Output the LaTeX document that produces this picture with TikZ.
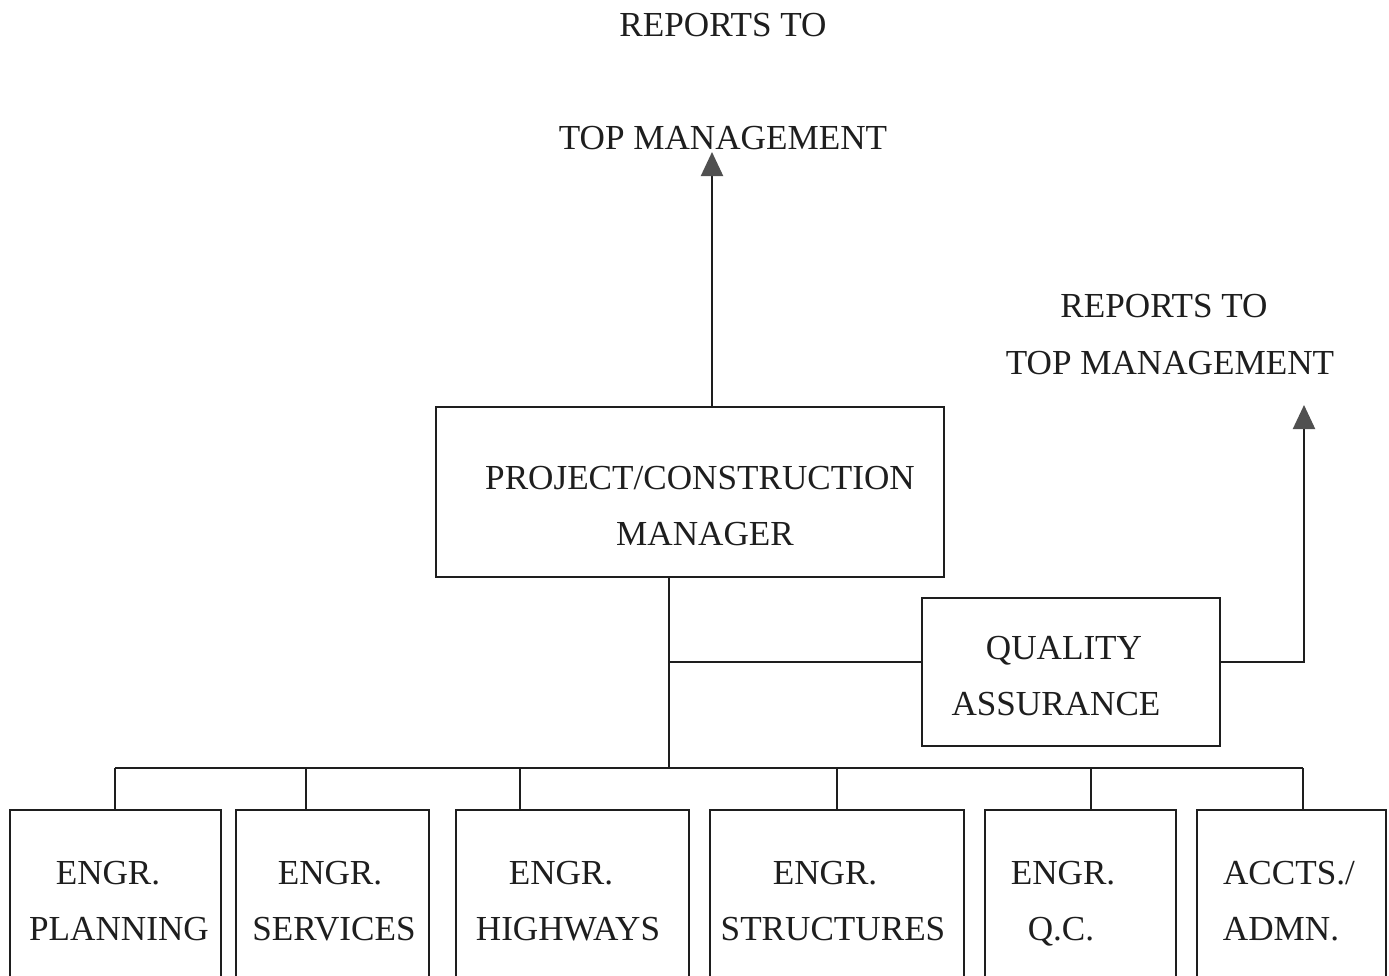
\documentclass[tikz,border=0pt]{standalone}
\usepackage{fontspec}
\setmainfont{Liberation Serif}
\usetikzlibrary{arrows.meta}
\definecolor{ink}{HTML}{1E1E1E}
\definecolor{tipgray}{HTML}{505050}
\tikzset{
  orgbox/.style={draw=ink, line width=1.2pt, inner sep=0pt, rectangle},
  lbl/.style={anchor=base, inner sep=0pt, text=ink, font=\fontsize{20}{24}\selectfont},
  link/.style={draw=ink, line width=1.2pt},
  uparrow/.style={link, -{Triangle[width=0.44cm,length=0.48cm,color=tipgray]}}
}
\begin{document}
\begin{tikzpicture}[x=0.02cm,y=-0.02cm]
\useasboundingbox (0,0) rectangle (1389,975);
\clip (0,0) rectangle (1389,975);
\fill[white] (0,0) rectangle (1389,975);

% top labels
\node[lbl] (rep1) at (723,36) {REPORTS TO};
\node[lbl] (top1) at (723,149) {TOP MANAGEMENT};
\node[lbl] (rep2) at (1164,317) {REPORTS TO};
\node[lbl] (top2) at (1170,374) {TOP MANAGEMENT};

% project manager
\node[orgbox, minimum width=10.16cm, minimum height=3.4cm] (pm) at (690,492) {};
\node[lbl] (pm1) at (700,489) {PROJECT/CONSTRUCTION};
\node[lbl] (pm2) at (705,545) {MANAGER};

% quality assurance
\node[orgbox, minimum width=5.96cm, minimum height=2.96cm] (qa) at (1071,672) {};
\node[lbl] (qa1) at (1064,659) {QUALITY};
\node[lbl] (qa2) at (1056,715) {ASSURANCE};

% bottom boxes
\node[orgbox, minimum width=4.22cm, minimum height=3.8cm] (b1) at (115.5,905) {};
\node[orgbox, minimum width=3.86cm, minimum height=3.8cm] (b2) at (332.5,905) {};
\node[orgbox, minimum width=4.66cm, minimum height=3.8cm] (b3) at (572.5,905) {};
\node[orgbox, minimum width=5.08cm, minimum height=3.8cm] (b4) at (837,905) {};
\node[orgbox, minimum width=3.82cm, minimum height=3.8cm] (b5) at (1080.5,905) {};
\node[orgbox, minimum width=3.78cm, minimum height=3.8cm] (b6) at (1291.5,905) {};

\node[lbl] (t1a) at (108,884) {ENGR.};
\node[lbl] (t1b) at (119,940) {PLANNING};
\node[lbl] (t2a) at (330,884) {ENGR.};
\node[lbl] (t2b) at (334,940) {SERVICES};
\node[lbl] (t3a) at (561,884) {ENGR.};
\node[lbl] (t3b) at (568,940) {HIGHWAYS};
\node[lbl] (t4a) at (825,884) {ENGR.};
\node[lbl] (t4b) at (833,940) {STRUCTURES};
\node[lbl] (t5a) at (1063,884) {ENGR.};
\node[lbl] (t5b) at (1061,940) {Q.C.};
\node[lbl] (t6a) at (1289,884) {ACCTS./};
\node[lbl] (t6b) at (1281,940) {ADMN.};

% coordinates
\coordinate (pmtop) at (712,407);
\coordinate (tip1) at (712,152);
\coordinate (pmbot) at (669,577);
\coordinate (qaj) at (669,662);
\coordinate (busc) at (669,768);
\coordinate (corner) at (1304,662);
\coordinate (tip2) at (1304,405);
\coordinate (d1) at (115,768);
\coordinate (d2) at (306,768);
\coordinate (d3) at (520,768);
\coordinate (d4) at (837,768);
\coordinate (d5) at (1091,768);
\coordinate (d6) at (1303,768);

% connectors
\draw[uparrow] (pmtop) -- (tip1);
\draw[link] (pmbot) -- (busc);
\draw[link] (qaj) -- (qa.west |- qaj);
\draw[uparrow] (qa.east |- corner) -- (corner) -- (tip2);
\draw[link] (d1) -- (d6);
\draw[link] (d1) -- (d1 |- b1.north);
\draw[link] (d2) -- (d2 |- b2.north);
\draw[link] (d3) -- (d3 |- b3.north);
\draw[link] (d4) -- (d4 |- b4.north);
\draw[link] (d5) -- (d5 |- b5.north);
\draw[link] (d6) -- (d6 |- b6.north);
\end{tikzpicture}
\end{document}
